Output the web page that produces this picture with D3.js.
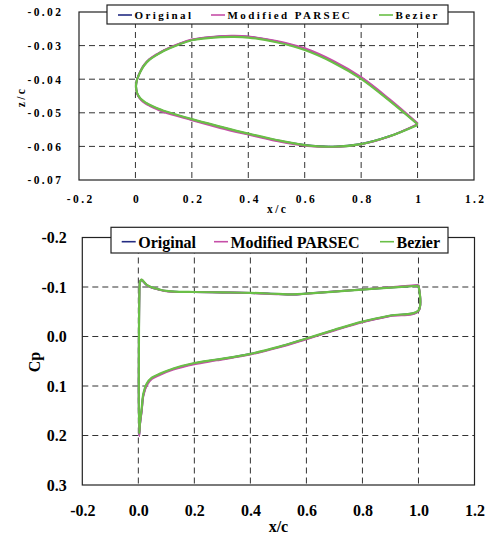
<!DOCTYPE html>
<html>
<head>
<meta charset="utf-8">
<script src="https://cdn.jsdelivr.net/npm/d3@7"></script>
<style>
body { margin: 0; background: #fff; }
text { font-family: "Liberation Serif", "Times New Roman", serif; font-weight: bold; fill: #000; }
</style>
</head>
<body>
<script>
var w = 487;
var h = 536;

var seriesNames = ["Original", "Modified PARSEC", "Bezier"];
var seriesColors = ["#242c82", "#c64fa8", "#6abf47"];

// airfoil shape, upper surface TE -> LE then lower LE -> TE
var airfoilX = [1.0, 0.9, 0.8, 0.7, 0.6, 0.5, 0.4, 0.35, 0.3, 0.2, 0.15, 0.1, 0.075, 0.05, 0.03, 0.018, 0.01, 0.005, 0.002,
                0.006, 0.012, 0.02, 0.035, 0.05, 0.075, 0.1, 0.2, 0.3, 0.4, 0.5, 0.6, 0.7, 0.8, 0.9, 1.0];
var zOriginal = [-0.0533, -0.0462, -0.0397, -0.0348, -0.0311, -0.0288, -0.0274, -0.0272, -0.0273, -0.0283, -0.0297, -0.0315, -0.0327, -0.0341, -0.0359, -0.0376, -0.0391, -0.0403, -0.0422,
                 -0.0442, -0.0452, -0.0460, -0.0470, -0.0477, -0.0487, -0.0495, -0.0520, -0.0542, -0.0563, -0.0582, -0.0596, -0.0601, -0.0593, -0.0570, -0.0535];
var zParsec = [-0.0531, -0.0459, -0.0394, -0.0345, -0.0308, -0.0286, -0.0273, -0.0271, -0.0272, -0.0282, -0.0296, -0.0314, -0.0326, -0.0340, -0.0358, -0.0376, -0.0391, -0.0403, -0.0422,
               -0.0443, -0.0453, -0.0462, -0.0472, -0.0479, -0.0489, -0.0498, -0.0522, -0.0545, -0.0565, -0.0584, -0.0598, -0.0602, -0.0594, -0.0571, -0.0534];
var zBezier = [-0.0534, -0.0464, -0.0399, -0.0350, -0.0313, -0.0290, -0.0276, -0.0274, -0.0275, -0.0284, -0.0298, -0.0316, -0.0328, -0.0342, -0.0360, -0.0377, -0.0392, -0.0403, -0.0421,
               -0.0441, -0.0451, -0.0459, -0.0469, -0.0476, -0.0486, -0.0494, -0.0519, -0.0541, -0.0562, -0.0581, -0.0596, -0.0601, -0.0593, -0.0570, -0.0536];

// pressure distribution, upper TE -> LE then lower LE -> TE
var cpX = [1.0, 0.9, 0.8, 0.7, 0.6, 0.55, 0.5, 0.4, 0.3, 0.2, 0.15, 0.1, 0.07, 0.05, 0.03, 0.018, 0.012, 0.008, 0.005, 0.0035,
           0.003, 0.006, 0.012, 0.018, 0.03, 0.048, 0.078, 0.125, 0.2, 0.28, 0.4, 0.5, 0.6, 0.7, 0.8, 0.9, 1.0, 1.0];
var cpOriginal = [-0.1030, -0.0990, -0.0950, -0.0910, -0.0868, -0.0850, -0.0858, -0.0880, -0.0890, -0.0898, -0.0900, -0.0918, -0.0955, -0.0985, -0.1040, -0.1110, -0.1140, -0.1125, -0.1060, -0.0800,
                  0.2000, 0.1760, 0.1490, 0.1180, 0.0970, 0.0845, 0.0760, 0.0655, 0.0545, 0.0470, 0.0355, 0.0215, 0.0045, -0.0130, -0.0295, -0.0420, -0.0520, -0.1030];
var cpParsec = [-0.1040, -0.0995, -0.0952, -0.0908, -0.0864, -0.0848, -0.0856, -0.0878, -0.0889, -0.0897, -0.0899, -0.0916, -0.0953, -0.0983, -0.1038, -0.1112, -0.1145, -0.1130, -0.1065, -0.0810,
                0.2010, 0.1780, 0.1510, 0.1200, 0.0990, 0.0860, 0.0775, 0.0670, 0.0560, 0.0482, 0.0365, 0.0225, 0.0055, -0.0120, -0.0287, -0.0413, -0.0512, -0.1040];
var cpBezier = [-0.1025, -0.0988, -0.0948, -0.0908, -0.0866, -0.0852, -0.0860, -0.0882, -0.0891, -0.0899, -0.0902, -0.0920, -0.0958, -0.0990, -0.1045, -0.1115, -0.1150, -0.1135, -0.1070, -0.0820,
                0.1960, 0.1730, 0.1450, 0.1150, 0.0950, 0.0830, 0.0750, 0.0645, 0.0535, 0.0465, 0.0350, 0.0210, 0.0040, -0.0135, -0.0300, -0.0425, -0.0528, -0.1025];

var xTicks = [-0.2, 0, 0.2, 0.4, 0.6, 0.8, 1.0, 1.2];
var xLabelsTop = ["-0.2", "0", "0.2", "0.4", "0.6", "0.8", "1", "1.2"];
var xLabelsBottom = ["-0.2", "0.0", "0.2", "0.4", "0.6", "0.8", "1.0", "1.2"];
var zTicks = [-0.02, -0.03, -0.04, -0.05, -0.06, -0.07];
var zLabels = ["-0.02", "-0.03", "-0.04", "-0.05", "-0.06", "-0.07"];
var cpTicks = [-0.2, -0.1, 0.0, 0.1, 0.2, 0.3];
var cpLabels = ["-0.2", "-0.1", "0.0", "0.1", "0.2", "0.3"];

var svg = d3.select("body")
            .append("svg")
            .attr("width", w)
            .attr("height", h);

function drawPanel(opt) {
    var g = svg.append("g");
    var xScale = d3.scaleLinear().domain([-0.2, 1.2]).range([opt.left, opt.right]);
    var yScale = d3.scaleLinear().domain(opt.yDomain).range([opt.top, opt.bottom]);
    var ls = opt.spacing;

    // grid
    g.selectAll(".vgrid")
        .data(xTicks.slice(1, -1))
        .enter()
        .append("line")
        .attr("x1", function(d){ return xScale(d); })
        .attr("x2", function(d){ return xScale(d); })
        .attr("y1", opt.top)
        .attr("y2", opt.bottom)
        .attr("stroke", "#333")
        .attr("stroke-dasharray", "6,4");
    g.selectAll(".hgrid")
        .data(opt.yTicks.slice(1, -1))
        .enter()
        .append("line")
        .attr("x1", opt.left)
        .attr("x2", opt.right)
        .attr("y1", function(d){ return yScale(d); })
        .attr("y2", function(d){ return yScale(d); })
        .attr("stroke", "#333")
        .attr("stroke-dasharray", "6,4");

    // frame
    g.append("rect")
        .attr("x", opt.left)
        .attr("y", opt.top)
        .attr("width", opt.right - opt.left)
        .attr("height", opt.bottom - opt.top)
        .attr("fill", "none")
        .attr("stroke", "#222")
        .attr("stroke-width", 1.2);

    // curves
    var line = d3.line()
        .x(function(d){ return xScale(d[0]); })
        .y(function(d){ return yScale(d[1]); })
        .curve(d3.curveCatmullRom.alpha(0.5));
    opt.series.forEach(function(vals, i){
        var pts = opt.xs.map(function(x, j){ return [x, vals[j]]; });
        g.append("path")
            .datum(pts)
            .attr("d", line)
            .attr("fill", "none")
            .attr("stroke", seriesColors[i])
            .attr("stroke-width", i == 2 ? 2.2 : 2)
            .attr("stroke-linejoin", "round");
    });

    // axes (labels only)
    var xAxis = d3.axisBottom(xScale)
        .tickValues(xTicks)
        .tickSize(0)
        .tickPadding(opt.xPad)
        .tickFormat(function(d, i){ return opt.xLabels[i]; });
    var yAxis = d3.axisLeft(yScale)
        .tickValues(opt.yTicks)
        .tickSize(0)
        .tickPadding(opt.yPad)
        .tickFormat(function(d, i){ return opt.yLabels[i]; });
    var ax = g.append("g")
        .attr("transform", "translate(0," + opt.bottom + ")")
        .call(xAxis);
    var ay = g.append("g")
        .attr("transform", "translate(" + opt.left + ",0)")
        .call(yAxis);
    [ax, ay].forEach(function(a){
        a.select(".domain").remove();
        a.selectAll("text")
            .attr("font-family", null)
            .style("font-size", opt.fontSize + "px")
            .style("letter-spacing", ls + "px")
            .attr("fill", "#000");
    });
    ax.selectAll("text").attr("dx", ls / 2);
    ay.selectAll("text").attr("dx", ls).attr("dy", "0.34em");

    // axis titles
    g.append("text")
        .attr("x", (opt.left + opt.right) / 2 + ls / 2)
        .attr("y", opt.xTitleY)
        .attr("text-anchor", "middle")
        .style("font-size", opt.fontSize + "px")
        .style("letter-spacing", ls + "px")
        .text("x/c");
    g.append("text")
        .attr("transform", "translate(" + opt.yTitleX + "," + opt.yTitleY + ") rotate(-90)")
        .attr("text-anchor", "middle")
        .style("font-size", opt.fontSize + "px")
        .style("letter-spacing", ls + "px")
        .text(opt.yTitle);

    // legend
    var lg = g.append("g");
    lg.append("rect")
        .attr("x", opt.legend.x0)
        .attr("y", opt.legend.y0)
        .attr("width", opt.legend.x1 - opt.legend.x0)
        .attr("height", opt.legend.y1 - opt.legend.y0)
        .attr("fill", "#fff")
        .attr("stroke", "#222")
        .attr("stroke-width", 1.2);
    seriesNames.forEach(function(name, i){
        var sx = opt.legend.items[i];
        lg.append("line")
            .attr("x1", sx)
            .attr("x2", sx + 14)
            .attr("y1", opt.legend.lineY)
            .attr("y2", opt.legend.lineY)
            .attr("stroke", seriesColors[i])
            .attr("stroke-width", 1.6);
        lg.append("text")
            .attr("x", sx + 16.5)
            .attr("y", opt.legend.textY)
            .style("font-size", opt.legendSize + "px")
            .style("letter-spacing", ls + "px")
            .text(name);
    });
}

drawPanel({
    left: 79, right: 474, top: 12, bottom: 180,
    yDomain: [-0.02, -0.07],
    yTicks: zTicks, yLabels: zLabels, xLabels: xLabelsTop,
    xs: airfoilX, series: [zOriginal, zParsec, zBezier],
    fontSize: 11.5, legendSize: 11, spacing: 2.4,
    xPad: 15, yPad: 18,
    xTitleY: 213, yTitle: "z/c", yTitleX: 25, yTitleY: 97,
    legend: { x0: 107, x1: 448, y0: 5, y1: 24, lineY: 15, textY: 19.3, items: [118, 211, 379] }
});

drawPanel({
    left: 82.3, right: 474.5, top: 237.5, bottom: 485,
    yDomain: [-0.2, 0.3],
    yTicks: cpTicks, yLabels: cpLabels, xLabels: xLabelsBottom,
    xs: cpX, series: [cpOriginal, cpParsec, cpBezier],
    fontSize: 16, legendSize: 16, spacing: 0,
    xPad: 20, yPad: 15.5,
    xTitleY: 532, yTitle: "Cp", yTitleX: 40, yTitleY: 362,
    legend: { x0: 111, x1: 448, y0: 227.3, y1: 253, lineY: 241.7, textY: 248.3, items: [121.7, 214, 380] }
});
</script>
</body>
</html>
